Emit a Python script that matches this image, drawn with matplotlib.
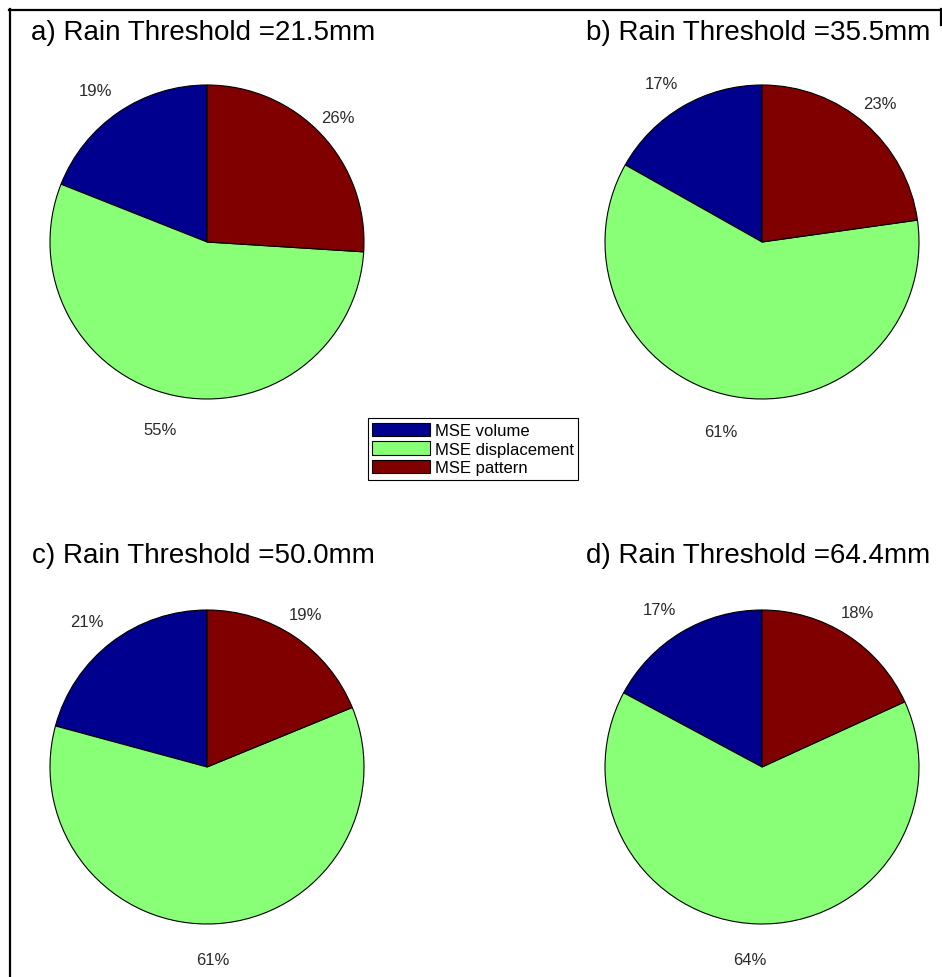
import matplotlib
matplotlib.use("Agg")
import matplotlib.pyplot as plt
import matplotlib.transforms as mtransforms
from matplotlib.lines import Line2D

plt.rcParams['font.family'] = ['Liberation Sans', 'DejaVu Sans']

components = ["MSE volume", "MSE displacement", "MSE pattern"]
colors = ["#00008f", "#88ff77", "#800000"]

titles = ["a) Rain Threshold =21.5mm", "b) Rain Threshold =35.5mm",
          "c) Rain Threshold =50.0mm", "d) Rain Threshold =64.4mm"]
volume = [19, 17, 21, 17]
displacement = [55, 61, 61, 64]
pattern = [26, 23, 19, 18]

W, H = 942, 978
fig = plt.figure(figsize=(W / 100, H / 100), dpi=100)

# pie centres in pixels (from top-left), radius in pixels
centres = [(207, 243), (762, 243), (207, 768), (762, 768)]
R = 157
box = 420

# small nudge for the percentage labels
nudge = mtransforms.ScaledTranslation(-6 / 100, -4 / 100, fig.dpi_scale_trans)

wedges = None
for i, (cx, cy) in enumerate(centres):
    ax = fig.add_axes([(cx - box / 2) / W, 1 - (cy + box / 2) / H, box / W, box / H])
    vals = [volume[i], displacement[i], pattern[i]]
    w, texts = ax.pie(vals, labels=["%d%%" % v for v in vals], colors=colors,
                      startangle=90, counterclock=True, labeldistance=1.2,
                      wedgeprops=dict(edgecolor="black", linewidth=0.8),
                      textprops=dict(fontsize=12, color="#2a2a2a"))
    for t in texts:
        t.set_ha("center")
        t.set_va("center")
        t.set_transform(t.get_transform() + nudge)
    lim = box / 2 / R
    ax.set_xlim(-lim, lim)
    ax.set_ylim(-lim, lim)
    ax.set_aspect("equal")
    ax.axis("off")
    # title above each pie
    ty = 40 if cy < 500 else 563
    fig.text((cx - 4) / W, 1 - ty / H, titles[i], ha="center", va="baseline",
             fontsize=20)
    if wedges is None:
        wedges = w

leg = fig.legend(wedges, components, loc="center",
                 bbox_to_anchor=(473 / W, 1 - 450 / H), fontsize=12,
                 fancybox=False, framealpha=1, edgecolor="black",
                 handlelength=3.5, handleheight=0.85, handletextpad=0.3,
                 labelspacing=0.2, borderpad=0.25, borderaxespad=0)
leg.get_frame().set_linewidth(0.8)

# outer frame (left, top and a short stub on the right)
def px_line(x0, y0, x1, y1):
    fig.add_artist(Line2D([x0 / W, x1 / W], [1 - y0 / H, 1 - y1 / H],
                          color="black", linewidth=1.6, transform=fig.transFigure))

px_line(9.5, 10, 9.5, H)
px_line(9, 10.5, 941, 10.5)
px_line(940.5, 10, 940.5, 26)

fig.savefig("out.png", dpi=100, facecolor="white")
